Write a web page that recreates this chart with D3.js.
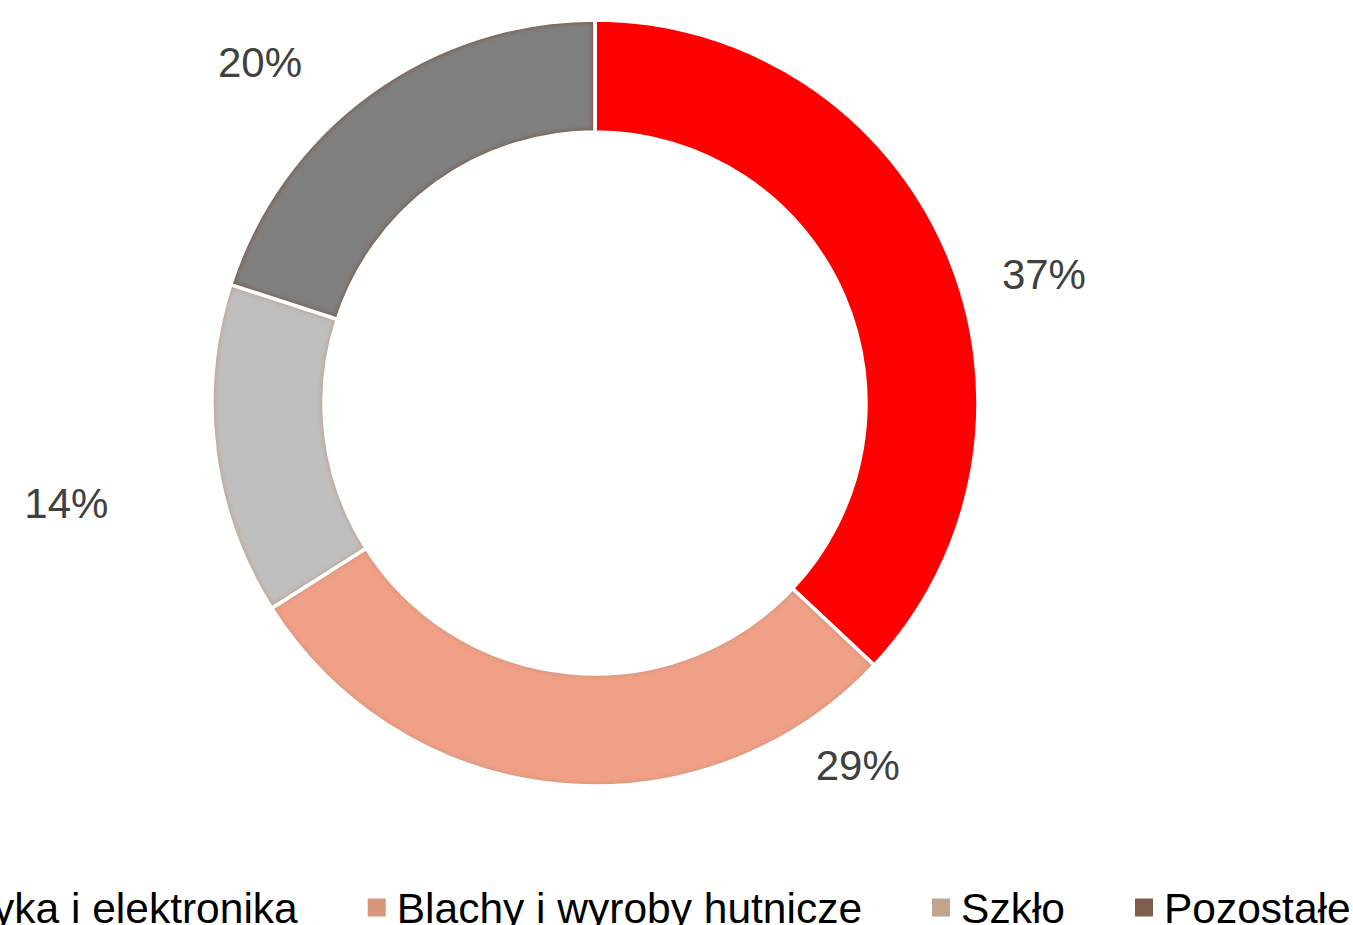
<!DOCTYPE html>
<html><head><meta charset="utf-8">
<script src="https://cdn.jsdelivr.net/npm/d3@7"></script>
<style>html,body{margin:0;padding:0;background:#fff;overflow:hidden}</style>
</head><body>
<svg id="chart" width="1353" height="925"></svg>
<script>
const categories = ["Elektryka i elektronika", "Blachy i wyroby hutnicze", "Szkło", "Pozostałe"];
const values = [37, 29, 14, 20];
const labels = ["37%", "29%", "14%", "20%"];
const fillColors = ["#FF0000", "#F0A086", "#BFBFBF", "#7F7F7F"];
const edgeColors = ["#FF0000", "#D8977D", "#BFA48E", "#7F5E4E"];
// label placement (polar: degrees clockwise from top, radius)
const labelAngles = [74, 144, 259.3, 315.5];
const labelRadii = [467, 447, 538, 478];

const svg = d3.select("#chart");
const W = 1353;
const cx = 595, cy = 403, rOuter = 383, rInner = 271;

const defs = svg.append("defs");
defs.append("filter").attr("id","blur").attr("x","-10%").attr("y","-10%").attr("width","120%").attr("height","120%")
  .append("feGaussianBlur").attr("stdDeviation", 2.2);

const pie = d3.pie().sort(null).value(d => d);
const arcs = pie(values);
const arc = d3.arc().innerRadius(rInner).outerRadius(rOuter);

const g = svg.append("g").attr("transform", `translate(${cx},${cy})`);

arcs.forEach((a, i) => {
  const cp = defs.append("clipPath").attr("id", "clip" + i);
  cp.append("path").attr("d", arc(a));
});

const slices = g.selectAll("g.slice").data(arcs).join("g").attr("class","slice");
slices.append("path").attr("d", arc).attr("fill", (d,i) => fillColors[i]);
slices.append("g").attr("clip-path", (d,i) => `url(#clip${i})`)
  .append("path").attr("d", arc).attr("fill","none")
  .attr("stroke", (d,i) => edgeColors[i]).attr("stroke-width", 6).attr("filter","url(#blur)");
slices.append("path").attr("d", arc).attr("fill","none").attr("stroke","#fff").attr("stroke-width", 3.5);

// data labels
const toRad = Math.PI / 180;
g.selectAll("text.lbl").data(labels).join("text").attr("class","lbl")
  .attr("x", (d,i) => labelRadii[i] * Math.sin(labelAngles[i]*toRad))
  .attr("y", (d,i) => -labelRadii[i] * Math.cos(labelAngles[i]*toRad))
  .attr("dy", "0.36em")
  .attr("text-anchor","middle")
  .attr("font-family","'Liberation Sans', Arial, sans-serif")
  .attr("font-size", 42)
  .attr("fill","#404040")
  .text(d => d);

// legend
const legend = svg.append("g").attr("class","legend");
const fontSize = 42.5, sw = 18, gapMT = 11, gapItem = 70;
const items = legend.selectAll("g.item").data(categories).join("g").attr("class","item");
items.append("rect").attr("width", sw).attr("height", sw).attr("y", -sw/2)
  .attr("fill", (d,i) => edgeColors[i]);
items.append("text").attr("x", sw + gapMT).attr("dy","0.36em")
  .attr("font-family","'Liberation Sans', Arial, sans-serif")
  .attr("font-size", fontSize).attr("fill","#000").text(d => d);
let widths = [];
items.each(function(){ widths.push(sw + gapMT + d3.select(this).select("text").node().getComputedTextLength()); });
const total = d3.sum(widths) + gapItem * (widths.length - 1);
let x = 603 - total / 2;
items.each(function(d,i){
  d3.select(this).attr("transform", `translate(${x},${907.5})`);
  x += widths[i] + gapItem;
});
</script>
</body></html>
